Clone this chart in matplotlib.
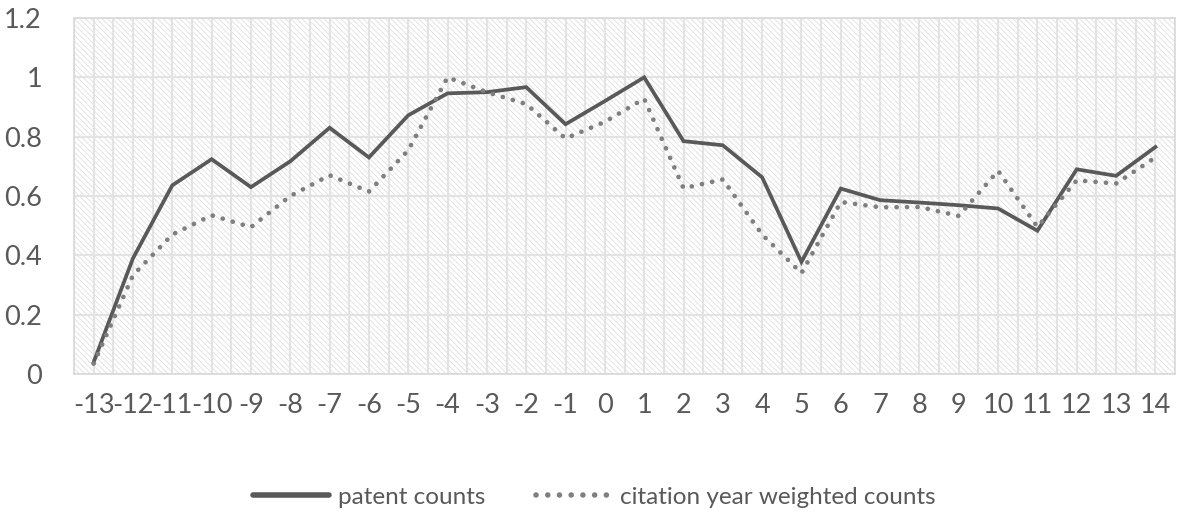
import matplotlib.pyplot as plt
from matplotlib.patches import Rectangle
from matplotlib.ticker import MultipleLocator

# Datos
years = list(range(-13, 15))
patent_counts = [0.04, 0.39, 0.636, 0.724, 0.63, 0.717, 0.83, 0.73, 0.872, 0.946,
                 0.95, 0.967, 0.842, 0.92, 1.0, 0.785, 0.771, 0.663, 0.378, 0.625,
                 0.586, 0.578, 0.569, 0.558, 0.483, 0.69, 0.668, 0.765]
citation_counts = [0.035, 0.333, 0.47, 0.535, 0.495, 0.60, 0.67, 0.615, 0.754, 1.0,
                   0.95, 0.91, 0.794, 0.85, 0.928, 0.626, 0.656, 0.47, 0.34, 0.58,
                   0.562, 0.563, 0.533, 0.685, 0.496, 0.653, 0.642, 0.73]

plt.rcParams['font.family'] = ['Lato', 'DejaVu Sans']
plt.rcParams['hatch.color'] = '#dadada'
plt.rcParams['hatch.linewidth'] = 0.5

fig = plt.figure(figsize=(11.8, 5.11), dpi=100)
ax = fig.add_axes([0.0627, 0.268, 0.9331, 0.6968])

x = list(range(len(years)))
ax.set_xlim(-0.5, len(years) - 0.5)
ax.set_ylim(0, 1.2)

# Fondo rayado
ax.add_patch(Rectangle((0, 0), 1, 1, transform=ax.transAxes, facecolor='white',
                       edgecolor='#dadada', hatch='\\\\\\\\\\\\', lw=0, zorder=0))

# Grillas
ax.xaxis.set_major_locator(MultipleLocator(1))
ax.xaxis.set_minor_locator(MultipleLocator(0.5))
ax.yaxis.set_major_locator(MultipleLocator(0.2))
ax.grid(which='both', axis='x', color='#e3e3e3', lw=1.5, zorder=1)
ax.grid(which='major', axis='y', color='#e3e3e3', lw=1.5, zorder=1)
ax.set_axisbelow(True)

ax.plot(x, patent_counts, color='#595959', lw=2.7, solid_joinstyle='miter',
        label='patent counts', zorder=3)
ax.plot(x, citation_counts, color='#7f7f7f', lw=3.4, linestyle=(0, (0.01, 2.2)),
        dash_capstyle='round', label='citation year weighted counts', zorder=3)

ax.set_xticks(x)
ax.set_xticklabels([str(y) for y in years])
ax.set_yticks([0, 0.2, 0.4, 0.6, 0.8, 1.0, 1.2])
ax.set_yticklabels(['0', '0.2', '0.4', '0.6', '0.8', '1', '1.2'])
ax.tick_params(axis='both', which='both', length=0, labelsize=19.5, labelcolor='#595959')
ax.tick_params(axis='x', pad=14)
ax.tick_params(axis='y', pad=23)

for s in ax.spines.values():
    s.set_color('#d9d9d9')
    s.set_linewidth(1.2)

leg = fig.legend(loc='center', bbox_to_anchor=(0.504, 0.027), ncol=2, frameon=False,
                 fontsize=17.5, labelcolor='#595959', handlelength=3.1, columnspacing=2.1,
                 handletextpad=0.37)
handles = leg.get_lines()
handles[0].set_linewidth(4)
handles[0].set_solid_capstyle('round')
handles[1].set_linewidth(4)
handles[1].set_linestyle((0, (0.01, 2.1)))

fig.savefig('out.png', dpi=100)
